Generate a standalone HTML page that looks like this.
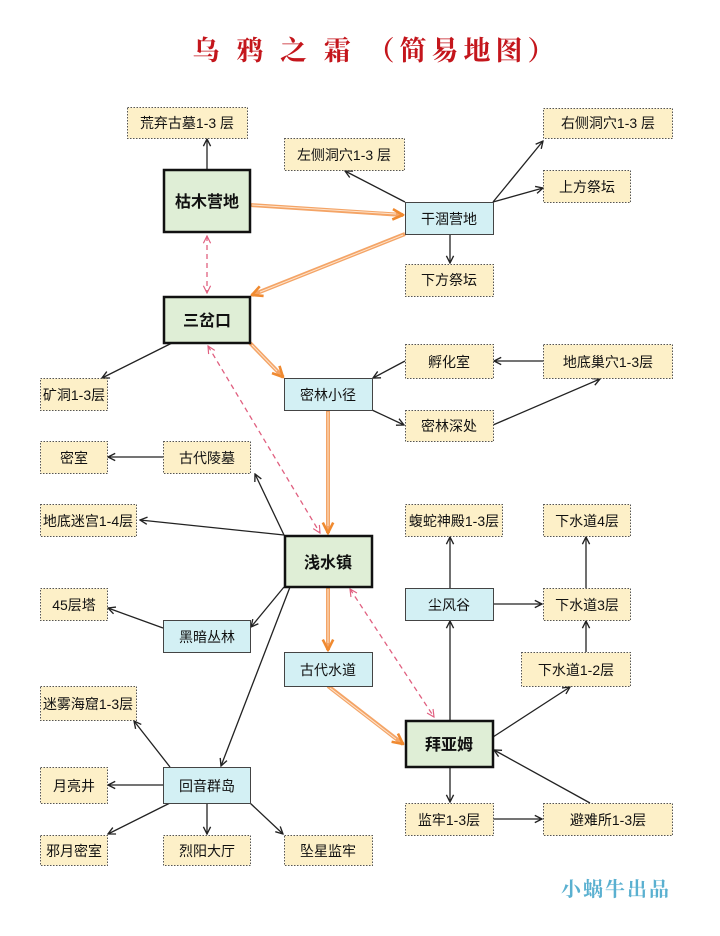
<!DOCTYPE html>
<html><head><meta charset="utf-8"><style>
html,body{margin:0;padding:0;background:#fff;}
svg{display:block;}
text{font-family:"Liberation Sans","Noto Sans CJK SC",sans-serif;}
</style></head><body>
<svg width="720" height="936" viewBox="0 0 720 936" xmlns="http://www.w3.org/2000/svg">
<defs>
<marker id="ab" viewBox="0 0 10 10" refX="9" refY="5" markerWidth="9" markerHeight="9" orient="auto-start-reverse" markerUnits="userSpaceOnUse"><path d="M1,1 L9,5 L1,9" fill="none" stroke="#222" stroke-width="1.5"/></marker>
<marker id="ao" viewBox="0 0 10 10" refX="9" refY="5" markerWidth="13" markerHeight="13" orient="auto" markerUnits="userSpaceOnUse"><path d="M1,1 L9,5 L1,9" fill="none" stroke="#f08a30" stroke-width="2"/></marker>
<marker id="ap" viewBox="0 0 10 10" refX="9" refY="5" markerWidth="9" markerHeight="9" orient="auto-start-reverse" markerUnits="userSpaceOnUse"><path d="M1,1 L9,5 L1,9" fill="none" stroke="#e06080" stroke-width="1.3"/></marker>
</defs>
<text x="376" y="60" text-anchor="middle" font-size="27" font-weight="bold" fill="#c4161c" letter-spacing="5" style='font-family:"Liberation Serif","Noto Serif CJK SC",serif'>乌 鸦 之 霜 （简易地图）</text>
<text x="616" y="896" text-anchor="middle" font-size="20" font-weight="bold" fill="#5ab0d0" letter-spacing="2" style='font-family:"Liberation Serif","Noto Serif CJK SC",serif'>小蜗牛出品</text>

<g stroke="#f4a466" stroke-width="4" fill="none">
<line x1="250" y1="205" x2="403" y2="215" marker-end="url(#ao)"/>
<line x1="405" y1="234" x2="252" y2="295" marker-end="url(#ao)"/>
<line x1="250" y1="343" x2="283" y2="377" marker-end="url(#ao)"/>
<line x1="328" y1="410" x2="328" y2="533" marker-end="url(#ao)"/>
<line x1="328" y1="587" x2="328" y2="650" marker-end="url(#ao)"/>
<line x1="328" y1="686" x2="403" y2="744" marker-end="url(#ao)"/>
</g>
<g stroke="#fde3cc" stroke-width="1" fill="none">
<line x1="252" y1="205" x2="396" y2="214"/>
<line x1="403" y1="235" x2="260" y2="292"/>
<line x1="252" y1="345" x2="277" y2="371"/>
<line x1="328" y1="412" x2="328" y2="526"/>
<line x1="328" y1="589" x2="328" y2="643"/>
<line x1="330" y1="688" x2="396" y2="739"/>
</g>

<g stroke="#e06080" stroke-width="1.3" stroke-dasharray="5,4" fill="none">
<line x1="207" y1="236" x2="207" y2="293" marker-start="url(#ap)" marker-end="url(#ap)"/>
<line x1="208" y1="346" x2="320" y2="533" marker-start="url(#ap)" marker-end="url(#ap)"/>
<line x1="350" y1="589" x2="434" y2="717" marker-start="url(#ap)" marker-end="url(#ap)"/>
</g>

<g stroke="#222" stroke-width="1.3" fill="none">
<line x1="207" y1="169" x2="207" y2="139" marker-end="url(#ab)"/>
<line x1="405" y1="202" x2="345" y2="171" marker-end="url(#ab)"/>
<line x1="493" y1="202" x2="543" y2="141" marker-end="url(#ab)"/>
<line x1="493" y1="202" x2="543" y2="188" marker-end="url(#ab)"/>
<line x1="450" y1="234" x2="450" y2="263" marker-end="url(#ab)"/>
<line x1="172" y1="343" x2="102" y2="378" marker-end="url(#ab)"/>
<line x1="405" y1="361" x2="373" y2="378" marker-end="url(#ab)"/>
<line x1="543" y1="361" x2="494" y2="361" marker-end="url(#ab)"/>
<line x1="372" y1="410" x2="404" y2="425" marker-end="url(#ab)"/>
<line x1="493" y1="425" x2="600" y2="379" marker-end="url(#ab)"/>
<line x1="163" y1="457" x2="108" y2="457" marker-end="url(#ab)"/>
<line x1="284" y1="535" x2="255" y2="474" marker-end="url(#ab)"/>
<line x1="284" y1="535" x2="140" y2="520" marker-end="url(#ab)"/>
<line x1="284" y1="587" x2="251" y2="627" marker-end="url(#ab)"/>
<line x1="163" y1="628" x2="108" y2="608" marker-end="url(#ab)"/>
<line x1="290" y1="587" x2="221" y2="766" marker-end="url(#ab)"/>
<line x1="170" y1="767" x2="134" y2="721" marker-end="url(#ab)"/>
<line x1="163" y1="785" x2="108" y2="785" marker-end="url(#ab)"/>
<line x1="170" y1="803" x2="108" y2="834" marker-end="url(#ab)"/>
<line x1="207" y1="803" x2="207" y2="834" marker-end="url(#ab)"/>
<line x1="250" y1="803" x2="283" y2="834" marker-end="url(#ab)"/>
<line x1="493" y1="604" x2="542" y2="604" marker-end="url(#ab)"/>
<line x1="450" y1="588" x2="450" y2="537" marker-end="url(#ab)"/>
<line x1="586" y1="588" x2="586" y2="537" marker-end="url(#ab)"/>
<line x1="586" y1="652" x2="586" y2="621" marker-end="url(#ab)"/>
<line x1="450" y1="720" x2="450" y2="621" marker-end="url(#ab)"/>
<line x1="493" y1="737" x2="570" y2="687" marker-end="url(#ab)"/>
<line x1="450" y1="767" x2="450" y2="802" marker-end="url(#ab)"/>
<line x1="493" y1="819" x2="542" y2="819" marker-end="url(#ab)"/>
<line x1="590" y1="803" x2="494" y2="750" marker-end="url(#ab)"/>
</g>

<g fill="#fdf0c8" stroke="#555" stroke-width="1" stroke-dasharray="1.5,1.5">
<rect x="127.5" y="107.5" width="120" height="31"/>
<rect x="284.5" y="138.5" width="120" height="32"/>
<rect x="543.5" y="108.5" width="129" height="30"/>
<rect x="543.5" y="170.5" width="87" height="32"/>
<rect x="405.5" y="264.5" width="88" height="32"/>
<rect x="405.5" y="344.5" width="88" height="34"/>
<rect x="543.5" y="344.5" width="129" height="34"/>
<rect x="40.5" y="378.5" width="67" height="32"/>
<rect x="405.5" y="410.5" width="88" height="31"/>
<rect x="40.5" y="441.5" width="67" height="32"/>
<rect x="163.5" y="441.5" width="87" height="32"/>
<rect x="40.5" y="504.5" width="96" height="32"/>
<rect x="405.5" y="504.5" width="97" height="32"/>
<rect x="543.5" y="504.5" width="87" height="32"/>
<rect x="40.5" y="588.5" width="67" height="32"/>
<rect x="543.5" y="588.5" width="87" height="32"/>
<rect x="521.5" y="652.5" width="109" height="34"/>
<rect x="40.5" y="686.5" width="96" height="34"/>
<rect x="40.5" y="767.5" width="67" height="36"/>
<rect x="405.5" y="803.5" width="88" height="32"/>
<rect x="543.5" y="803.5" width="129" height="32"/>
<rect x="40.5" y="835.5" width="67" height="30"/>
<rect x="163.5" y="835.5" width="87" height="30"/>
<rect x="284.5" y="835.5" width="88" height="30"/>
</g>
<g fill="#d3f0f4" stroke="#444" stroke-width="1">
<rect x="405.5" y="202.5" width="88" height="32"/>
<rect x="284.5" y="378.5" width="88" height="32"/>
<rect x="163.5" y="620.5" width="87" height="32"/>
<rect x="405.5" y="588.5" width="88" height="32"/>
<rect x="284.5" y="652.5" width="88" height="34"/>
<rect x="163.5" y="767.5" width="87" height="36"/>
</g>
<g fill="#dfeed6" stroke="#111" stroke-width="2.5">
<rect x="164" y="170" width="86" height="62"/>
<rect x="164" y="297" width="86" height="46"/>
<rect x="285" y="536" width="87" height="51"/>
<rect x="406" y="721" width="87" height="46"/>
</g>

<g font-size="14" fill="#111" text-anchor="middle">
<text x="187" y="128">荒弃古墓1-3 层</text>
<text x="344" y="160">左侧洞穴1-3 层</text>
<text x="608" y="128">右侧洞穴1-3 层</text>
<text x="587" y="192">上方祭坛</text>
<text x="449" y="285">下方祭坛</text>
<text x="449" y="367">孵化室</text>
<text x="608" y="367">地底巢穴1-3层</text>
<text x="74" y="400">矿洞1-3层</text>
<text x="449" y="431">密林深处</text>
<text x="74" y="463">密室</text>
<text x="207" y="463">古代陵墓</text>
<text x="88" y="526">地底迷宫1-4层</text>
<text x="454" y="526">蝮蛇神殿1-3层</text>
<text x="587" y="526">下水道4层</text>
<text x="74" y="610">45层塔</text>
<text x="587" y="610">下水道3层</text>
<text x="576" y="675">下水道1-2层</text>
<text x="88" y="709">迷雾海窟1-3层</text>
<text x="74" y="791">月亮井</text>
<text x="449" y="825">监牢1-3层</text>
<text x="608" y="825">避难所1-3层</text>
<text x="74" y="856">邪月密室</text>
<text x="207" y="856">烈阳大厅</text>
<text x="328" y="856">坠星监牢</text>
<text x="449" y="224">干涸营地</text>
<text x="328" y="400">密林小径</text>
<text x="207" y="642">黑暗丛林</text>
<text x="449" y="610">尘风谷</text>
<text x="328" y="675">古代水道</text>
<text x="207" y="791">回音群岛</text>
</g>
<g font-size="16" font-weight="bold" fill="#111" text-anchor="middle">
<text x="207" y="207">枯木营地</text>
<text x="207" y="326">三岔口</text>
<text x="328" y="568">浅水镇</text>
<text x="449" y="750">拜亚姆</text>
</g>
</svg>
</body></html>
